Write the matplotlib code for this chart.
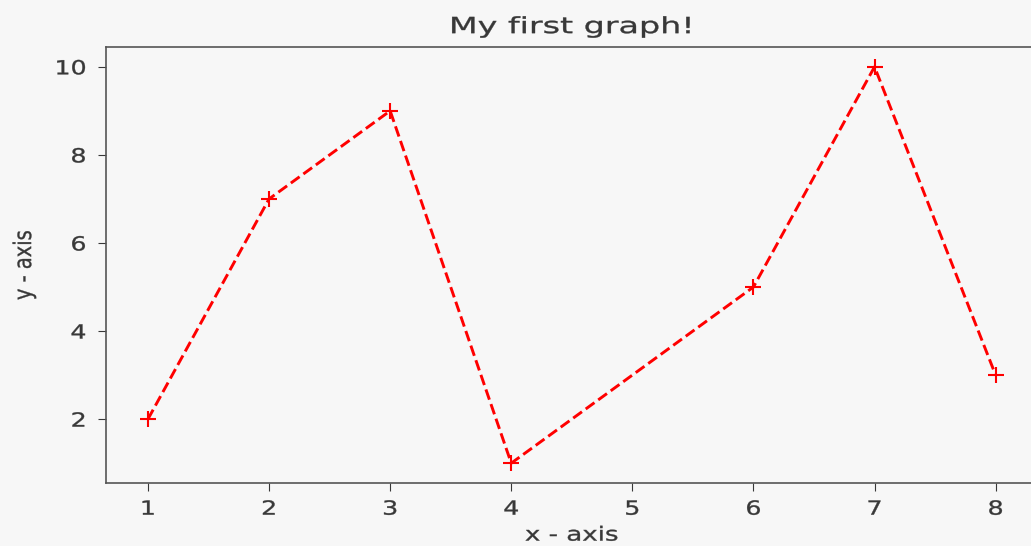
import matplotlib
matplotlib.use("Agg")
import matplotlib.pyplot as plt
from matplotlib.patheffects import AbstractPathEffect
from matplotlib.transforms import Affine2D

x_values = [1, 2, 3, 4, 6, 7, 8]
y_values = [2, 7, 9, 1, 5, 10, 3]
title_text = "My first graph!"
x_label = "x - axis"
y_label = "y - axis"

bg = "#f7f7f7"
text_color = "#383838"
spine_color = "#555555"


class StretchX(AbstractPathEffect):
    """Widen text glyphs horizontally about a chosen anchor, with a light outline."""

    def __init__(self, factor, anchor="center", stroke=0.25):
        super().__init__()
        self.factor = factor
        self.anchor = anchor
        self.stroke = stroke

    def draw_path(self, renderer, gc, tpath, affine, rgbFace=None):
        ext = tpath.get_extents(affine)
        if self.anchor == "right":
            x0 = ext.x1
        elif self.anchor == "left":
            x0 = ext.x0
        else:
            x0 = 0.5 * (ext.x0 + ext.x1)
        stretched = affine + Affine2D().translate(-x0, 0).scale(self.factor, 1).translate(x0, 0)
        gc0 = renderer.new_gc()
        gc0.copy_properties(gc)
        gc0.set_linewidth(self.stroke)
        gc0.set_foreground(rgbFace if rgbFace is not None else text_color)
        renderer.draw_path(gc0, tpath, stretched, rgbFace)
        gc0.restore()


fig = plt.figure(figsize=(10.31, 5.46), dpi=100, facecolor=bg)
ax = fig.add_axes([0.1024, 0.1154, 0.9044, 0.7985], facecolor=bg)

ax.plot(x_values, y_values, color="red", linestyle="--", linewidth=2.1,
        marker="+", markersize=12, markeredgewidth=1.5)

title = ax.set_title(title_text, fontsize=16, color=text_color, pad=10)
title.set_path_effects([StretchX(1.5)])

xl = ax.set_xlabel(x_label, fontsize=14, color=text_color, labelpad=5)
xl.set_path_effects([StretchX(1.34)])

yl = ax.set_ylabel(y_label, fontsize=14, color=text_color, labelpad=20)
yl.set_path_effects([StretchX(1.25)])

ax.tick_params(labelsize=14, colors=text_color, length=6)
ax.tick_params(axis="y", pad=8)
ax.tick_params(axis="x", pad=6)
for lab in ax.get_xticklabels():
    lab.set_path_effects([StretchX(1.3)])
for lab in ax.get_yticklabels():
    lab.set_path_effects([StretchX(1.3, anchor="right")])

for s in ax.spines.values():
    s.set_color(spine_color)
    s.set_linewidth(1.2)

fig.savefig("out.png", dpi=100, facecolor=bg)
